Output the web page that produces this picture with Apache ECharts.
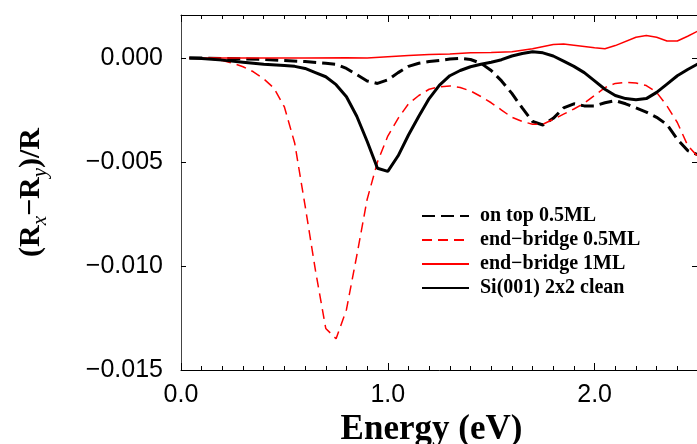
<!DOCTYPE html>
<html>
<head>
<meta charset="utf-8">
<script src="https://cdn.jsdelivr.net/npm/echarts@6/dist/echarts.min.js"></script>
<style>html,body{margin:0;padding:0;background:#fff;}#c{width:697px;height:444px;}</style>
</head>
<body>
<div id="c"></div>
<script>
// ---- data ----
const xTicks = ['0.0', '1.0', '2.0'];
const yTicks = ['0.000', '−0.005', '−0.010', '−0.015'];
const seriesNames = ['on top 0.5ML', 'end\u2212bridge 0.5ML', 'end\u2212bridge 1ML', 'Si(001) 2x2 clean'];

const onTopE = [0.04,0.1,0.2,0.3,0.4,0.5,0.6,0.7,0.75,0.8,0.85,0.9,0.95,1.0,1.05,1.1,1.15,1.2,1.25,1.3,1.35,1.4,1.45,1.5,1.55,1.6,1.65,1.7,1.75,1.8,1.85,1.9,1.95,2.0,2.05,2.1,2.15,2.2,2.25,2.3,2.35,2.4,2.45,2.5];
const onTopV = [0,0,-0.00002,-0.00004,-0.00007,-0.00012,-0.00017,-0.00025,-0.0003,-0.0005,-0.0008,-0.0011,-0.00122,-0.00105,-0.0007,-0.0004,-0.00025,-0.00017,-0.00012,-0.00005,-0.00002,-0.00007,-0.00025,-0.0006,-0.0011,-0.0017,-0.0024,-0.00305,-0.00322,-0.0029,-0.0024,-0.0022,-0.0023,-0.0023,-0.00215,-0.00205,-0.0022,-0.0024,-0.0026,-0.00285,-0.0032,-0.0039,-0.00445,-0.00465];

const ebHalfE = [0.04,0.1,0.15,0.2,0.25,0.3,0.35,0.4,0.45,0.5,0.55,0.6,0.65,0.7,0.75,0.8,0.85,0.9,0.95,1.0,1.05,1.1,1.15,1.2,1.25,1.3,1.35,1.4,1.45,1.5,1.55,1.6,1.65,1.7,1.75,1.8,1.85,1.9,1.95,2.0,2.05,2.1,2.15,2.2,2.25,2.3,2.35,2.4,2.45,2.5];
const ebHalfV = [0,-0.00002,-0.00006,-0.00012,-0.00025,-0.00042,-0.00066,-0.001,-0.00145,-0.00235,-0.0041,-0.0071,-0.0102,-0.013,-0.0135,-0.0121,-0.0095,-0.0068,-0.005,-0.00375,-0.0029,-0.0022,-0.0018,-0.0015,-0.00138,-0.00134,-0.00142,-0.00158,-0.00185,-0.00215,-0.0025,-0.00285,-0.00305,-0.00318,-0.00318,-0.00295,-0.0027,-0.00245,-0.00217,-0.0018,-0.00142,-0.00122,-0.00117,-0.0012,-0.00132,-0.00165,-0.0023,-0.0031,-0.0042,-0.00475];

const ebOneE = [0.04,0.2,0.4,0.6,0.8,0.9,1.0,1.1,1.2,1.3,1.4,1.5,1.6,1.7,1.8,1.85,1.9,2.0,2.05,2.1,2.2,2.25,2.3,2.35,2.4,2.45,2.5];
const ebOneV = [0,0,0,0,0.00002,0,0.00006,0.00012,0.00017,0.0002,0.00026,0.00027,0.0003,0.00045,0.00065,0.00068,0.00062,0.0005,0.00045,0.0006,0.001,0.00108,0.001,0.00082,0.00082,0.00105,0.0013];

const cleanE = [0.04,0.1,0.2,0.3,0.4,0.5,0.55,0.6,0.65,0.7,0.75,0.8,0.85,0.9,0.95,1.0,1.05,1.1,1.15,1.2,1.25,1.3,1.35,1.4,1.45,1.5,1.55,1.6,1.65,1.7,1.75,1.8,1.85,1.9,1.95,2.0,2.05,2.1,2.15,2.2,2.25,2.3,2.35,2.4,2.45,2.5];
const cleanV = [0,-0.00002,-0.0001,-0.0002,-0.0003,-0.00036,-0.0004,-0.0005,-0.0007,-0.0009,-0.00128,-0.00186,-0.0028,-0.004,-0.0053,-0.00545,-0.0047,-0.0037,-0.0028,-0.00195,-0.0013,-0.00085,-0.0006,-0.00042,-0.0003,-0.0002,-0.00008,0.0001,0.00022,0.0003,0.00025,0.0001,-0.00015,-0.0004,-0.0007,-0.0011,-0.0015,-0.0018,-0.00195,-0.002,-0.00195,-0.00165,-0.00125,-0.00085,-0.00055,-0.00028];

function pairs(xs, ys) { return xs.map((x, i) => [x, ys[i]]); }

const chart = echarts.init(document.getElementById('c'), null, {renderer: 'canvas'});
const sans = 'Liberation Sans, Arial, Helvetica, sans-serif';
const serif = 'Liberation Serif, Times New Roman, serif';

function yFmt(v) {
  if (Math.abs(v) < 1e-9) return yTicks[0];
  const s = Math.abs(v).toFixed(3);
  return v < 0 ? ('\u2212' + s) : s;
}

const option = {
  animation: false,
  backgroundColor: '#fff',
  grid: {left: 181, top: 15, width: 517, height: 355, containLabel: false, outerBoundsMode: 'none'},
  xAxis: [
    { type: 'value', position: 'bottom', min: 0, max: 2.5, interval: 1,
      axisLine: {show: true, onZero: false, lineStyle: {color: '#000', width: 1}},
      axisTick: {show: true, inside: true, length: 7, lineStyle: {color: '#000'}},
      axisLabel: {show: true, margin: 13, fontFamily: sans, fontSize: 25, color: '#000',
        showMaxLabel: false, formatter: v => xTicks[Math.round(v)] || ''},
      splitLine: {show: false},
      name: 'Energy (eV)', nameLocation: 'middle', nameGap: 40,
      nameTextStyle: {fontFamily: serif, fontWeight: 'bold', fontSize: 35, color: '#000', padding: [0, 16, 0, 0]}
    },
    { type: 'value', position: 'bottom', min: 0, max: 2.5, interval: 0.1,
      axisLine: {show: false, onZero: false}, axisLabel: {show: false}, splitLine: {show: false},
      axisTick: {show: true, inside: true, length: 4, lineStyle: {color: '#000'}} },
    { type: 'value', position: 'top', min: 0, max: 2.5, interval: 1,
      axisLine: {show: true, onZero: false, lineStyle: {color: '#000', width: 1}}, axisLabel: {show: false}, splitLine: {show: false},
      axisTick: {show: true, inside: true, length: 7, lineStyle: {color: '#000'}} },
    { type: 'value', position: 'top', min: 0, max: 2.5, interval: 0.1,
      axisLine: {show: false, onZero: false}, axisLabel: {show: false}, splitLine: {show: false},
      axisTick: {show: true, inside: true, length: 4, lineStyle: {color: '#000'}} }
  ],
  yAxis: [
    { type: 'value', position: 'left', min: -0.015, max: 0.00207, interval: 0.005,
      axisLine: {show: true, onZero: false, lineStyle: {color: '#444', width: 1}},
      axisTick: {show: true, inside: true, length: 5, lineStyle: {color: '#000'}},
      axisLabel: {show: true, margin: 18, fontFamily: sans, fontSize: 25, color: '#000', showMaxLabel: false, formatter: yFmt},
      splitLine: {show: false},
      name: '{m|(R}{s|x}{m|\u2212R}{s|y}{m|)/R}', nameLocation: 'middle', nameGap: 130,
      nameTextStyle: {
        rich: {
          m: {fontFamily: serif, fontWeight: 'bold', fontSize: 30, color: '#000', lineHeight: 40},
          s: {fontFamily: serif, fontWeight: 'normal', fontStyle: 'italic', fontSize: 21, color: '#000', lineHeight: 21, verticalAlign: 'bottom'}
        }
      }
    },
    { type: 'value', position: 'right', min: -0.015, max: 0.00207, interval: 0.005,
      axisLine: {show: true, onZero: false, lineStyle: {color: '#000', width: 1}},
      axisTick: {show: true, inside: true, length: 6, lineStyle: {color: '#000'}},
      axisLabel: {show: false}, splitLine: {show: false} }
  ],
  legend: {
    orient: 'vertical', left: 416, top: 201, itemWidth: 47, itemHeight: 14, itemGap: 4,
    itemStyle: {opacity: 0},
    textStyle: {fontFamily: serif, fontWeight: 'bold', fontSize: 20, color: '#000', lineHeight: 20, padding: [0, 0, 0, 6]},
    data: seriesNames
  },
  series: [
    { name: seriesNames[0], type: 'line', data: pairs(onTopE, onTopV), symbol: 'none', smooth: false,
      lineStyle: {color: '#000', width: 3, type: [13, 6]}, itemStyle: {color: '#000'} },
    { name: seriesNames[1], type: 'line', data: pairs(ebHalfE, ebHalfV), symbol: 'none', smooth: false,
      lineStyle: {color: '#ff0000', width: 1.5, type: [10, 6]}, itemStyle: {color: '#ff0000'} },
    { name: seriesNames[2], type: 'line', data: pairs(ebOneE, ebOneV), symbol: 'none', smooth: false,
      lineStyle: {color: '#ff0000', width: 1.5}, itemStyle: {color: '#ff0000'} },
    { name: seriesNames[3], type: 'line', data: pairs(cleanE, cleanV), symbol: 'none', smooth: false,
      lineStyle: {color: '#000', width: 3}, itemStyle: {color: '#000'} }
  ]
};
chart.setOption(option);
</script>
</body>
</html>
